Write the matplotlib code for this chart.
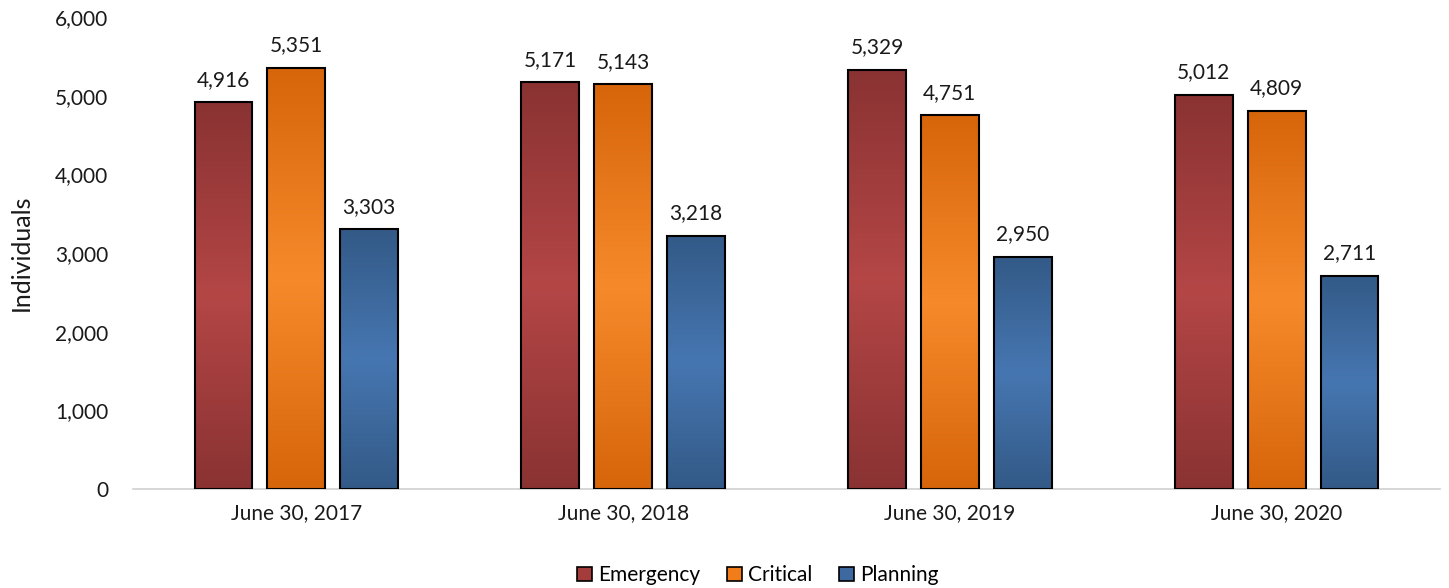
import numpy as np
import matplotlib.pyplot as plt
from matplotlib.colors import LinearSegmentedColormap
from matplotlib.patches import Patch

categories = ["June 30, 2017", "June 30, 2018", "June 30, 2019", "June 30, 2020"]
series_names = ["Emergency", "Critical", "Planning"]
emergency = [4916, 5171, 5329, 5012]
critical = [5351, 5143, 4751, 4809]
planning = [3303, 3218, 2950, 2711]

# dark / light shades for the Excel-like gradient fill
shades = [("#8a3232", "#b44646"), ("#d7650a", "#f68a2b"), ("#335a87", "#4676b1")]
legend_colors = ["#a43c3c", "#f07d1a", "#3d69a0"]

plt.rcParams["font.family"] = ["Lato", "DejaVu Sans"]

fig = plt.figure(figsize=(14.49, 5.88), dpi=100)
ax = fig.add_axes([0.0918, 0.1684, 0.902, 0.8027])

x = np.arange(len(categories))
width = 0.177
step = 0.223
grad = np.abs(np.linspace(-1, 1, 256))[:, None]
fs = 15

for i, vals in enumerate([emergency, critical, planning]):
    dark, light = shades[i]
    cmap = LinearSegmentedColormap.from_list("g%d" % i, [light, dark])
    pos = x + (i - 1) * step
    bars = ax.bar(pos, vals, width, facecolor="none", edgecolor="black",
                  linewidth=1.5, zorder=3)
    for b in bars:
        im = ax.imshow(grad, cmap=cmap, aspect="auto", zorder=2,
                       extent=[b.get_x(), b.get_x() + b.get_width(), 0, b.get_height()],
                       origin="lower")
        im.set_clip_path(b)
    for p, v in zip(pos, vals):
        ax.annotate(f"{v:,}", (p, v), xytext=(0, 9), textcoords="offset points",
                    ha="center", va="bottom", fontsize=fs, color="#1a1a1a")

ax.set_xlim(-0.5, len(categories) - 0.5)
ax.set_ylim(0, 6000)
ax.set_yticks(range(0, 6001, 1000))
ax.set_yticklabels([f"{t:,}" for t in range(0, 6001, 1000)])
ax.set_xticks(x)
ax.set_xticklabels(categories)
ax.tick_params(axis="both", length=0, labelsize=fs, colors="#1a1a1a")
ax.tick_params(axis="y", pad=18)
ax.tick_params(axis="x", pad=10)
for s in ["top", "right", "left"]:
    ax.spines[s].set_visible(False)
ax.spines["bottom"].set_color("#d0d0d0")
ax.spines["bottom"].set_linewidth(1.2)
ax.set_ylabel("Individuals", fontsize=18, color="#1a1a1a", labelpad=16)

handles = [Patch(facecolor=c, edgecolor="black", linewidth=1.2) for c in legend_colors]
fig.legend(handles, series_names, loc="lower center", ncol=3, frameon=False,
           fontsize=fs, bbox_to_anchor=(0.523, -0.027), handlelength=0.7,
           handleheight=0.7, handletextpad=0.3, columnspacing=1.3)

fig.savefig("out.png", dpi=100)
